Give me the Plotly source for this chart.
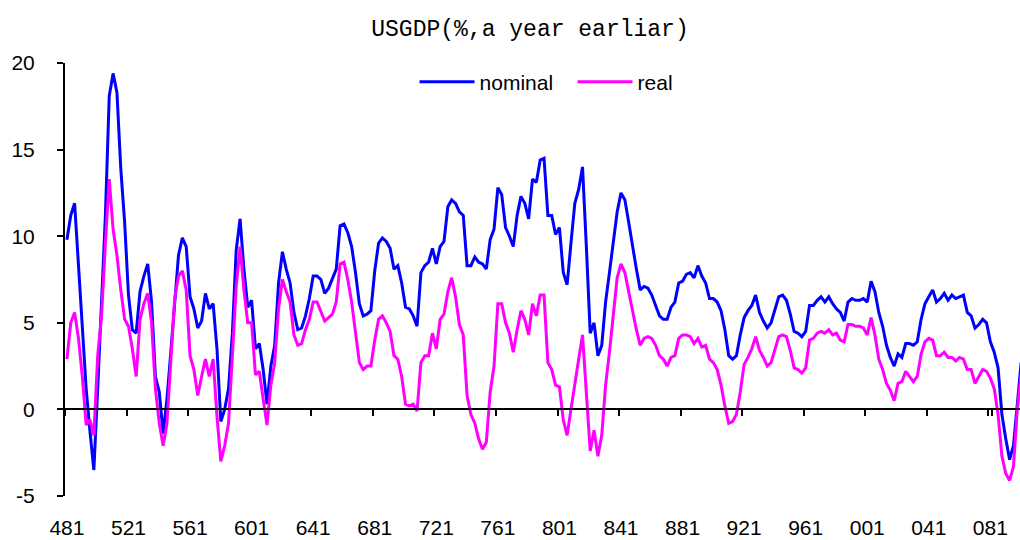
import plotly.graph_objects as go

# Quarterly categories 1948Q1 .. 2010Q1, labelled YYQ (e.g. "481")
quarters = [f"{(1948 + k // 4) % 100:02d}{k % 4 + 1}" for k in range(249)]

tick_labels = ["481", "521", "561", "601", "641", "681", "721", "761",
               "801", "841", "881", "921", "961", "001", "041", "081"]

nominal = [
    9.8, 11.2, 11.9, 8.5, 4.6, 1.2, -1.3, -3.5, 1.2, 6.0,
    11.2, 18.1, 19.4, 18.3, 13.9, 10.8, 6.6, 4.6, 4.4, 6.8,
    7.7, 8.4, 6.2, 1.9, 1.0, -1.4, 0.6, 3.3, 6.2, 8.9,
    9.9, 9.4, 6.5, 5.8, 4.7, 5.1, 6.7, 5.8, 6.1, 3.5,
    -0.7, 0.0, 1.2, 4.4, 9.2, 11.0, 8.1, 5.9, 6.3, 3.5,
    3.8, 2.3, 0.3, 2.5, 3.7, 7.3, 9.1, 8.1, 7.3, 5.6,
    4.6, 4.7, 5.4, 6.4, 7.7, 7.7, 7.5, 6.7, 7.0, 7.5,
    8.1, 10.6, 10.7, 10.2, 9.4, 7.9, 6.1, 5.4, 5.5, 5.7,
    8.0, 9.6, 9.9, 9.7, 9.3, 8.1, 8.3, 7.3, 5.9, 5.8,
    5.4, 4.8, 7.9, 8.3, 8.5, 9.3, 8.4, 9.4, 9.7, 11.7,
    12.1, 11.9, 11.4, 11.2, 8.3, 8.3, 8.8, 8.5, 8.4, 8.1,
    9.8, 10.4, 12.8, 12.4, 10.5, 10.0, 9.4, 11.2, 12.3, 11.9,
    11.0, 13.3, 13.1, 14.4, 14.5, 11.2, 11.2, 10.1, 10.5, 7.9,
    7.2, 9.6, 11.9, 12.7, 14.0, 9.4, 4.4, 5.0, 3.1, 3.7,
    6.2, 7.9, 9.6, 11.4, 12.5, 12.1, 10.8, 9.4, 8.1, 6.9,
    7.1, 7.0, 6.6, 6.0, 5.4, 5.2, 5.2, 5.9, 6.2, 7.3,
    7.4, 7.8, 7.9, 7.6, 8.3, 7.7, 7.3, 6.4, 6.4, 6.2,
    5.7, 4.6, 3.1, 2.9, 3.1, 4.3, 5.3, 5.7, 6.0, 6.6,
    5.6, 5.1, 4.7, 5.0, 5.8, 6.5, 6.6, 6.3, 5.5, 4.5,
    4.4, 4.2, 4.5, 6.0, 6.0, 6.3, 6.5, 6.2, 6.5, 6.1,
    5.8, 5.6, 5.1, 6.2, 6.4, 6.3, 6.3, 6.4, 6.2, 7.4,
    6.8, 5.6, 4.8, 3.7, 3.0, 2.5, 3.2, 3.0, 3.8, 3.8,
    3.7, 3.9, 5.2, 6.1, 6.5, 6.9, 6.2, 6.4, 6.7, 6.3,
    6.6, 6.4, 6.5, 6.6, 5.6, 5.4, 4.7, 4.9, 5.2, 5.0,
    3.9, 3.3, 2.4, -0.3, -1.7, -2.9, -2.1, 0.2, 2.7,
]

real = [
    2.9, 5.0, 5.6, 4.1, 1.9, -0.9, -0.6, -1.5, 3.1, 5.4,
    9.6, 13.3, 10.4, 8.9, 6.9, 5.2, 4.8, 3.5, 1.9, 5.2,
    6.1, 6.7, 5.0, 1.2, -0.8, -2.1, -0.8, 3.1, 6.4, 7.7,
    8.0, 6.9, 3.1, 2.3, 0.8, 1.9, 2.9, 1.9, 2.9, -0.4,
    -3.0, -2.1, -0.8, 3.1, 7.1, 9.4, 6.9, 5.0, 5.0, 2.0,
    2.2, 0.6, -0.9, 1.4, 2.7, 5.8, 7.5, 6.8, 6.2, 4.3,
    3.7, 3.8, 4.6, 5.2, 6.2, 6.2, 5.7, 5.1, 5.3, 5.5,
    6.2, 8.4, 8.5, 7.5, 6.2, 4.4, 2.7, 2.3, 2.5, 2.5,
    4.0, 5.2, 5.4, 5.0, 4.5, 3.1, 2.9, 1.9, 0.3, 0.2,
    0.3, -0.1, 2.7, 3.1, 3.1, 4.4, 3.5, 5.2, 5.5, 6.8,
    7.6, 6.5, 4.9, 4.3, 0.8, -0.3, -0.8, -1.7, -2.3, -1.9,
    1.0, 2.5, 6.1, 6.1, 5.0, 4.4, 3.3, 4.6, 5.7, 5.2,
    4.3, 6.1, 5.4, 6.6, 6.6, 2.7, 2.3, 1.4, 1.3, -0.6,
    -1.5, 0.0, 1.6, 2.9, 4.3, 0.6, -2.4, -1.2, -2.7, -1.5,
    1.4, 3.3, 5.6, 7.6, 8.4, 7.9, 6.8, 5.6, 4.6, 3.7,
    4.1, 4.2, 4.1, 3.7, 3.1, 2.9, 2.5, 3.0, 3.1, 4.1,
    4.3, 4.3, 4.2, 3.8, 4.1, 3.6, 3.7, 2.9, 2.7, 2.3,
    1.4, 0.2, -0.8, -0.7, -0.3, 1.0, 2.6, 3.0, 3.5, 4.2,
    3.4, 3.0, 2.5, 2.7, 3.5, 4.2, 4.3, 4.2, 3.4, 2.4,
    2.3, 2.1, 2.4, 4.0, 4.1, 4.4, 4.5, 4.4, 4.6, 4.3,
    4.4, 4.0, 3.9, 4.9, 4.9, 4.8, 4.8, 4.7, 4.3, 5.3,
    4.3, 2.9, 2.3, 1.5, 1.1, 0.5, 1.5, 1.6, 2.2, 1.9,
    1.6, 1.9, 3.2, 3.9, 4.1, 4.0, 3.1, 3.1, 3.3, 3.0,
    3.0, 2.8, 3.0, 2.9, 2.3, 2.3, 1.5, 1.9, 2.3, 2.2,
    1.8, 1.2, -0.3, -2.7, -3.7, -4.1, -3.3, 0.0, 2.0,
]

y_ticks = [-5, 0, 5, 10, 15, 20]
y_ticktext = ["-5", "0", "5", "10", "15", "20"]

n = len(quarters)
x_range = [-0.5, n - 1.3]

font_main = "Liberation Sans"

fig = go.Figure()
fig.add_trace(go.Scatter(x=quarters, y=nominal, name="nominal", mode="lines",
                         line=dict(color="#0000FF", width=3)))
fig.add_trace(go.Scatter(x=quarters, y=real, name="real", mode="lines",
                         line=dict(color="#FF00FF", width=3)))

fig.update_layout(
    width=1020, height=540,
    margin=dict(l=65, r=0, t=63, b=44, autoexpand=False),
    paper_bgcolor="white", plot_bgcolor="white",
    title=dict(text="USGDP(%,a year earliar)", x=530 / 1020, xanchor="center",
               xref="container", y=1 - 28 / 540, yref="container", yanchor="middle",
               font=dict(family="Liberation Mono", size=23, color="black")),
    showlegend=True,
    legend=dict(orientation="h", x=0.366, xanchor="left", y=0.956, yanchor="middle",
                itemwidth=55, entrywidth=88, entrywidthmode="pixels",
                font=dict(family=font_main, size=21, color="black"),
                bgcolor="rgba(0,0,0,0)"),
    # category axis drawn on the zero line, labels pushed down to the bottom
    xaxis=dict(type="category", range=x_range, tickvals=tick_labels, ticktext=tick_labels,
               anchor="free", position=0.2, tickson="boundaries", tickangle=0,
               ticks="outside", ticklen=6, tickwidth=2, tickcolor="black",
               showline=True, linecolor="black", linewidth=2,
               showgrid=False, zeroline=False, automargin=False,
               ticklabelstandoff=99,
               tickfont=dict(family=font_main, size=21, color="black")),
    yaxis=dict(range=[-5, 20], tickvals=y_ticks, ticktext=y_ticktext,
               ticks="outside", ticklen=6, tickwidth=2, tickcolor="black",
               showline=True, linecolor="black", linewidth=2,
               showgrid=False, zeroline=False, ticklabelstandoff=18, automargin=False,
               tickfont=dict(family=font_main, size=21, color="black")),
)

fig.write_html("out.html", config={"displayModeBar": False},
               post_script="document.body.style.margin='0';document.body.style.overflow='hidden';")
